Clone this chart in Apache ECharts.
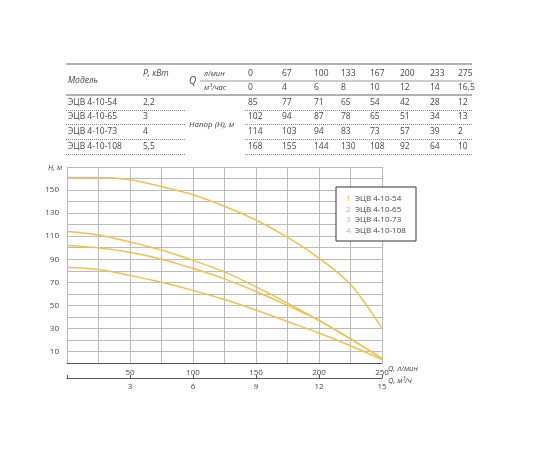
<!DOCTYPE html>
<html><head><meta charset="utf-8">
<script src="https://cdn.jsdelivr.net/npm/echarts@6/dist/echarts.min.js"></script>
<style>html,body{margin:0;background:#fff}#c{width:550px;height:450px}</style>
</head><body><div id="c"></div>
<script>
// flow, l/min (chart points)
var flow = [0, 25, 50, 75, 100, 125, 150, 175, 200, 225, 250];
var h54  = [83, 81, 76, 70, 63, 55, 46, 36, 26, 15, 3];
var h65  = [102, 100, 96, 90, 82, 73, 62, 50, 37, 21, 4];
var h73  = [114, 111, 105, 98, 89, 79, 66, 52, 37, 21, 4];
var h108 = [161, 161, 159, 153, 146, 136, 124, 109, 91, 68, 30];
var models = ['ЭЦВ 4-10-54', 'ЭЦВ 4-10-65', 'ЭЦВ 4-10-73', 'ЭЦВ 4-10-108'];
// table
var tPower = ['2,2', '3', '4', '5,5'];
var tLmin = ['0', '67', '100', '133', '167', '200', '233', '275'];
var tM3h = ['0', '4', '6', '8', '10', '12', '14', '16,5'];
var tHead = [
    ['85', '77', '71', '65', '54', '42', '28', '12'],
    ['102', '94', '87', '78', '65', '51', '34', '13'],
    ['114', '103', '94', '83', '73', '57', '39', '2'],
    ['168', '155', '144', '130', '108', '92', '64', '10']
];

var yel = '#f1c150', txt = '#444', font = 'Open Sans';
var colX = [250, 284, 316, 343, 372, 402, 432, 460];
var rowY = [103, 117, 132, 147];
var g = [];
function t(x, y, s, opt) {
    opt = opt || {};
    g.push({ type: 'text', x: x, y: y, z: 10, style: {
        text: s, fill: opt.fill || txt, font: (opt.italic ? 'italic ' : '') + (opt.size || 8.5) + 'px ' + font,
        align: opt.align || 'left', verticalAlign: 'middle' } });
}
function ln(x1, y1, x2, y2, dash, col) {
    g.push({ type: 'line', shape: { x1: x1, y1: y1, x2: x2, y2: y2 },
        style: { stroke: col || '#666', lineWidth: dash ? 1 : 1.2, lineDash: dash ? [1, 1] : null } });
}
ln(66, 64, 472, 64);
ln(200, 81, 472, 81, false, '#999');
ln(66, 95, 472, 95);
t(68, 81, 'Модель', { italic: true });
t(143, 74, 'P, кВт', { italic: true });
t(189, 81, 'Q', { italic: true, size: 10 });
t(204, 74, 'л/мин', { italic: true, size: 7.5 });
t(204, 88, 'м³/час', { italic: true, size: 7.5 });
t(189, 125, 'Напор (Н), м', { italic: true, size: 8 });
for (var i = 0; i < colX.length; i++) {
    t(colX[i] - 2, 74, tLmin[i]);
    t(colX[i] - 2, 88, tM3h[i]);
}
for (var r = 0; r < 4; r++) {
    t(68, rowY[r], models[r]);
    t(143, rowY[r], tPower[r]);
    for (var i = 0; i < colX.length; i++) t(colX[i] - 2, rowY[r], tHead[r][i]);
    ln(66, rowY[r] + 7.5, 185, rowY[r] + 7.5, true, '#888');
    ln(245, rowY[r] + 7.5, 472, rowY[r] + 7.5, true, '#888');
}
// legend box
g.push({ type: 'rect', z: 9, shape: { x: 336, y: 187, width: 80, height: 54 },
    style: { fill: '#fff', stroke: '#333', lineWidth: 1 } });
for (var i = 0; i < 4; i++) {
    t(346, 199 + i * 10.5, String(i + 1), { fill: '#e8b030', size: 8 });
    t(355, 199 + i * 10.5, models[i], { size: 8 });
}
t(388, 369, 'Q, л/мин', { italic: true, size: 7.5 });
t(388, 381, 'Q, м³/ч', { italic: true, size: 7.5 });
t(48, 168, 'H, м', { italic: true, size: 7.5 });

function mk(name, ys, n) {
    return {
        name: name, type: 'line', xAxisIndex: 0, smooth: 0.35, symbol: 'none',
        lineStyle: { color: yel, width: 1.5 },
        label: { show: true, position: 'right', offset: [6, -1], color: '#e8b030', fontSize: 7,
            formatter: function (p) { return p.dataIndex === 0 ? String(n) : ''; } },
        data: flow.map(function (x, k) { return [x, ys[k]]; }),
        z: 3
    };
}

var chart = echarts.init(document.getElementById('c'));
chart.setOption({
    animation: false,
    textStyle: { fontFamily: font },
    grid: { left: 67, right: 168, top: 167, bottom: 87 },
    xAxis: [{
        type: 'value', min: 0, max: 250, interval: 25,
        axisLine: { lineStyle: { color: '#555' } }, axisTick: { show: false },
        splitLine: { lineStyle: { color: '#bbb' } },
        axisLabel: { color: txt, fontSize: 8, margin: 6,
            formatter: function (v) { return v % 50 === 0 && v > 0 ? v : ''; } }
    }, {
        type: 'value', min: 0, max: 15, interval: 3, position: 'bottom', offset: 15,
        axisLine: { lineStyle: { color: '#555' } },
        axisTick: { show: true, length: 3, inside: true, lineStyle: { color: '#555' } },
        splitLine: { show: false },
        axisLabel: { color: txt, fontSize: 8, margin: 5,
            formatter: function (v) { return v > 0 ? v : ''; } }
    }],
    yAxis: {
        type: 'value', min: 0, max: 170, interval: 10,
        axisLine: { show: false }, axisTick: { show: false },
        splitLine: { lineStyle: { color: '#bbb' } },
        axisLabel: { color: txt, fontSize: 8,
            formatter: function (v) { return (v / 10) % 2 === 1 && v < 170 ? v : ''; } }
    },
    series: [mk(models[0], h54, 1), mk(models[1], h65, 2), mk(models[2], h73, 3), mk(models[3], h108, 4),
        { type: 'line', xAxisIndex: 1, data: [], silent: true }],
    graphic: g
});
</script></body></html>
